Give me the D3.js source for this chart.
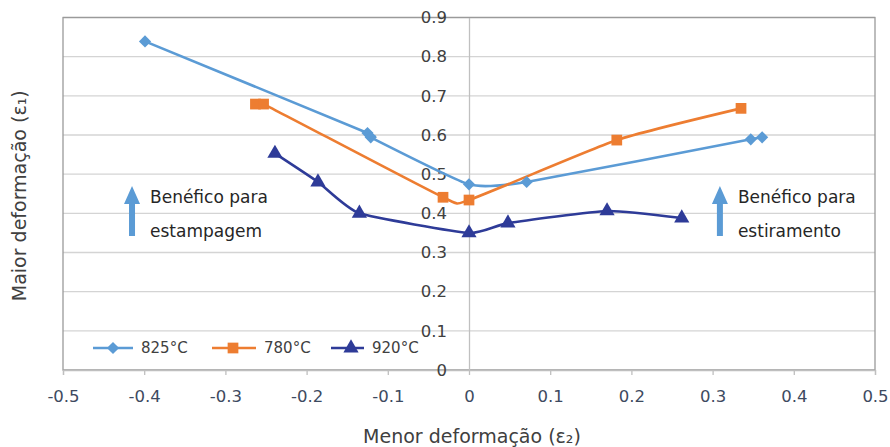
<!DOCTYPE html>
<html>
<head>
<meta charset="utf-8">
<script src="https://cdn.jsdelivr.net/npm/d3@7"></script>
<style>
  body { margin: 0; background: #fff; }
  svg text { font-family: "DejaVu Sans", "Open Sans", sans-serif; }
</style>
</head>
<body>
<div class="chart"></div>
<script>
// dados (menor deformação e2, maior deformação e1)
const series = ['825°C', '780°C', '920°C'];
const colors = ['#5b9bd5', '#ed7d31', '#2e3b98'];
const markers = ['diamond', 'square', 'triangle'];

const x825 = [-0.399, -0.125, -0.121, 0.0, 0.071, 0.347, 0.361];
const y825 = [0.839, 0.605, 0.594, 0.474, 0.480, 0.589, 0.594];

const x780 = [-0.263, -0.253, -0.032, 0.0, 0.182, 0.335];
const y780 = [0.679, 0.679, 0.441, 0.434, 0.587, 0.668];

const x920 = [-0.239, -0.186, -0.135, 0.0, 0.048, 0.170, 0.262];
const y920 = [0.553, 0.480, 0.400, 0.350, 0.375, 0.406, 0.388];

const xTicks = [-0.5, -0.4, -0.3, -0.2, -0.1, 0, 0.1, 0.2, 0.3, 0.4, 0.5];
const yTicks = [0, 0.1, 0.2, 0.3, 0.4, 0.5, 0.6, 0.7, 0.8, 0.9];

const notes = [
  { x: -0.415, lines: ['Benéfico para', 'estampagem'] },
  { x: 0.309, lines: ['Benéfico para', 'estiramento'] }
];

const allData = [
  x825.map((v, i) => ({ x: v, y: y825[i] })),
  x780.map((v, i) => ({ x: v, y: y780[i] })),
  x920.map((v, i) => ({ x: v, y: y920[i] }))
];

const width = 890, height = 447;
const margin = { top: 17.5, right: 15, bottom: 77, left: 63 };

const svg = d3.select('.chart').append('svg')
  .attr('width', width).attr('height', height);

const xScale = d3.scaleLinear([-0.5, 0.5], [margin.left, width - margin.right]);
const yScale = d3.scaleLinear([0, 0.9], [height - margin.bottom, margin.top]);

// formato com hífen simples, como no original
const fmt = d => d === 0 ? '0' : d3.format('.1f')(d).replace('−', '-');

// grade horizontal
svg.append('g').selectAll('line').data(yTicks).join('line')
  .attr('x1', xScale(-0.5)).attr('x2', xScale(0.5))
  .attr('y1', d => yScale(d)).attr('y2', d => yScale(d))
  .attr('stroke', '#d4d4d4').attr('stroke-width', 1.3);

// borda da área do gráfico
svg.append('rect')
  .attr('x', xScale(-0.5)).attr('y', yScale(0.9))
  .attr('width', xScale(0.5) - xScale(-0.5))
  .attr('height', yScale(0) - yScale(0.9))
  .attr('fill', 'none').attr('stroke', '#9a9a9a').attr('stroke-width', 1.3);

// eixo x (ticks embaixo)
const xAxis = d3.axisBottom(xScale).tickValues(xTicks)
  .tickSize(5).tickFormat(fmt);
const gx = svg.append('g')
  .attr('transform', `translate(0,${yScale(0)})`)
  .call(xAxis);
gx.select('.domain').attr('stroke', '#bfbfbf').attr('stroke-width', 1.3);
gx.selectAll('.tick line').attr('stroke', '#bfbfbf').attr('stroke-width', 1.3);
gx.selectAll('.tick text')
  .attr('y', 20).attr('font-size', 16.5).attr('fill', '#3d4a60')
  .attr('font-family', '"DejaVu Sans", sans-serif');

// eixo y no zero
const yAxis = d3.axisLeft(yScale).tickValues(yTicks).tickSize(0).tickFormat(fmt);
const gy = svg.append('g')
  .attr('transform', `translate(${xScale(0)},0)`)
  .call(yAxis);
gy.select('.domain').attr('stroke', '#c0c0c0').attr('stroke-width', 1.3);
gy.selectAll('.tick text')
  .attr('x', -22).attr('font-size', 16.5).attr('fill', '#404040')
  .attr('font-family', '"DejaVu Sans", sans-serif');

// títulos dos eixos
svg.append('text')
  .attr('x', xScale(0) + 3).attr('y', 443)
  .attr('text-anchor', 'middle').attr('font-size', 19).attr('fill', '#404040')
  .text('Menor deformação (ε₂)');
svg.append('text')
  .attr('transform', `translate(26,${(yScale(0) + yScale(0.9)) / 2 + 2}) rotate(-90)`)
  .attr('text-anchor', 'middle').attr('font-size', 19).attr('fill', '#404040')
  .text('Maior deformação (ε₁)');

// marcadores
const symbolType = {
  diamond: d3.symbolDiamond2,
  square: d3.symbolSquare,
  triangle: d3.symbolTriangle
};
const symbolSize = { diamond: 95, square: 115, triangle: 100 };

function drawMarker(g, kind, color, cx, cy) {
  g.append('path')
    .attr('d', d3.symbol().type(symbolType[kind]).size(symbolSize[kind])())
    .attr('transform', `translate(${cx},${cy})`)
    .attr('fill', color);
}

// linhas suavizadas
const line = d3.line()
  .x(d => xScale(d.x)).y(d => yScale(d.y))
  .curve(d3.curveCardinal.tension(0.5));

const lines = svg.append('g').attr('class', 'lines');
allData.forEach((data, i) => {
  lines.append('path').datum(data)
    .attr('d', line)
    .attr('fill', 'none')
    .attr('stroke', colors[i])
    .attr('stroke-width', 2.6);
});
allData.forEach((data, i) => {
  data.forEach(d => drawMarker(lines, markers[i], colors[i], xScale(d.x), yScale(d.y)));
});

// legenda
const legendItems = [
  { x1: 93, x2: 133, mx: 113, tx: 141 },
  { x1: 212, x2: 256, mx: 233, tx: 264 },
  { x1: 331, x2: 364, mx: 351, tx: 372 }
];
const legY = 348;
const legend = svg.append('g').attr('class', 'legend');
legendItems.forEach((it, i) => {
  legend.append('line')
    .attr('x1', it.x1).attr('x2', it.x2).attr('y1', legY).attr('y2', legY)
    .attr('stroke', colors[i]).attr('stroke-width', 2.6);
  drawMarker(legend, markers[i], colors[i], it.mx, legY);
  legend.append('text')
    .attr('x', it.tx).attr('y', legY).attr('dy', '0.35em')
    .attr('font-size', 15).attr('fill', '#404040')
    .text(series[i]);
});

// setas e textos de anotação
const ann = svg.append('g').attr('class', 'notes');
notes.forEach(n => {
  const ax = xScale(n.x);
  ann.append('path')
    .attr('d', `M${ax - 3},236 L${ax - 3},204 L${ax - 8},204 L${ax},186 L${ax + 8},204 L${ax + 3},204 L${ax + 3},236 Z`)
    .attr('fill', '#5b9bd5');
  n.lines.forEach((t, j) => {
    ann.append('text')
      .attr('x', ax + 18).attr('y', 203 + j * 34)
      .attr('font-size', 17).attr('fill', '#262626')
      .text(t);
  });
});
</script>
</body>
</html>
